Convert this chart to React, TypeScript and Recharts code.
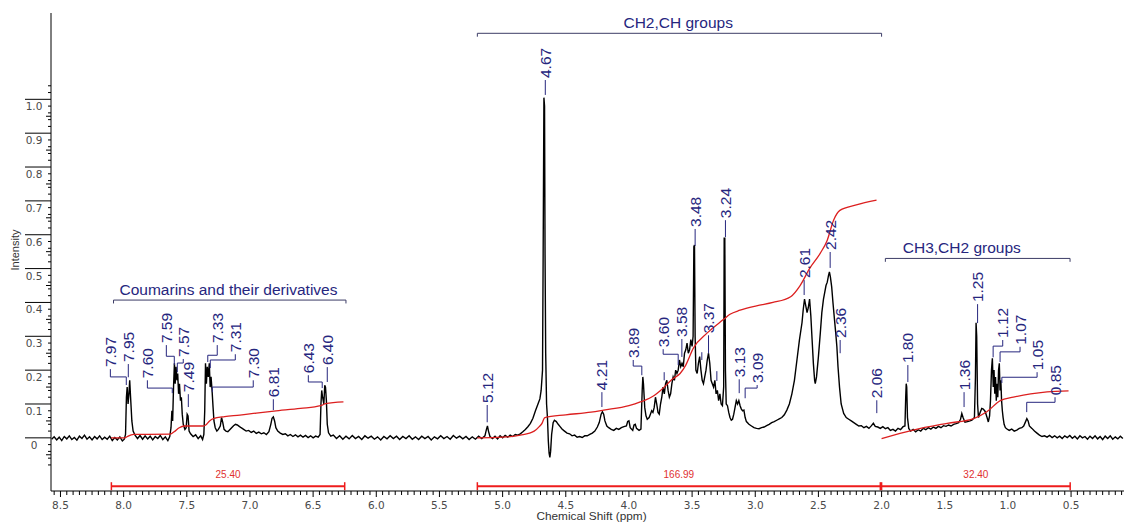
import { ComposedChart, Line, XAxis, YAxis, ReferenceLine, ReferenceDot, Label } from 'recharts';

// ---- data (ppm, intensity) ----
const spectrum: [number, number][] = [
  [8.57, -0.004], [8.55, 0.003], [8.53, -0.006], [8.51, 0.002], [8.49, -0.008], [8.47, 0.004], [8.45, -0.003],
  [8.43, 0.006], [8.41, -0.005], [8.39, 0.001], [8.37, -0.007], [8.35, 0.005], [8.33, -0.002], [8.31, 0.008],
  [8.29, -0.004], [8.27, 0.003], [8.25, -0.006], [8.23, 0.004], [8.21, -0.003], [8.19, 0.006], [8.17, -0.005],
  [8.15, 0.002], [8.13, -0.004], [8.11, 0.005], [8.09, -0.008], [8.07, 0.001], [8.05, -0.006], [8.03, 0.003],
  [8.01, -0.009], [7.995, -0.004],
  [7.985, 0.01], [7.978, 0.12], [7.972, 0.15], [7.965, 0.1], [7.958, 0.13], [7.952, 0.17], [7.945, 0.12],
  [7.935, 0.05], [7.925, 0.02], [7.91, 0.008],
  [7.89, -0.002], [7.87, 0.007], [7.85, -0.004], [7.83, 0.006], [7.81, -0.003], [7.79, 0.005], [7.77, -0.006],
  [7.75, 0.004], [7.73, -0.002], [7.71, 0.007], [7.69, -0.005], [7.67, 0.003], [7.65, -0.008], [7.635, 0.004],
  [7.625, 0.03], [7.618, 0.08], [7.612, 0.05], [7.605, 0.15], [7.598, 0.22], [7.592, 0.16], [7.585, 0.21],
  [7.578, 0.17], [7.572, 0.19], [7.565, 0.13], [7.558, 0.16], [7.55, 0.11], [7.543, 0.12], [7.536, 0.07],
  [7.528, 0.04], [7.515, 0.025], [7.505, 0.03], [7.497, 0.07], [7.49, 0.065], [7.482, 0.02],
  [7.47, 0.012], [7.45, 0.004], [7.43, 0.009], [7.41, -0.002], [7.39, 0.006], [7.375, -0.005],
  [7.365, 0.01], [7.358, 0.08], [7.352, 0.22], [7.345, 0.16], [7.338, 0.21], [7.33, 0.18], [7.322, 0.22],
  [7.315, 0.15], [7.308, 0.18], [7.3, 0.14], [7.292, 0.09], [7.285, 0.05], [7.275, 0.03], [7.262, 0.02],
  [7.25, 0.025], [7.235, 0.035], [7.225, 0.06], [7.215, 0.045], [7.205, 0.025], [7.19, 0.02], [7.175, 0.018],
  [7.16, 0.024], [7.145, 0.03], [7.13, 0.036], [7.115, 0.04], [7.1, 0.038], [7.085, 0.034], [7.07, 0.03],
  [7.05, 0.025], [7.03, 0.02], [7.01, 0.022], [6.99, 0.016], [6.97, 0.02], [6.95, 0.013], [6.93, 0.017],
  [6.91, 0.012], [6.89, 0.015], [6.87, 0.01], [6.85, 0.018], [6.835, 0.04], [6.825, 0.058], [6.815, 0.062],
  [6.805, 0.05], [6.795, 0.03], [6.78, 0.02], [6.76, 0.014], [6.74, 0.01], [6.72, 0.012], [6.7, 0.006],
  [6.68, 0.01], [6.66, 0.004], [6.64, 0.009], [6.62, 0.003], [6.6, 0.008], [6.58, 0.002], [6.56, 0.007],
  [6.54, 0.001], [6.52, 0.006], [6.5, 0.0], [6.48, 0.005], [6.46, 0.002], [6.445, 0.01], [6.438, 0.1],
  [6.432, 0.14], [6.425, 0.12], [6.415, 0.1], [6.408, 0.155], [6.402, 0.15], [6.395, 0.11], [6.388, 0.04],
  [6.378, 0.015], [6.36, 0.005],
  [6.34, 0.008], [6.315, -0.002], [6.29, 0.006], [6.265, -0.004], [6.24, 0.005], [6.215, -0.003], [6.19, 0.007],
  [6.165, -0.002], [6.14, 0.004], [6.115, -0.005], [6.09, 0.006], [6.065, -0.001], [6.04, 0.005], [6.015, -0.004],
  [5.99, 0.003], [5.965, -0.006], [5.94, 0.004], [5.915, -0.003], [5.89, 0.006], [5.865, -0.002], [5.84, 0.005],
  [5.815, -0.005], [5.79, 0.004], [5.765, -0.002], [5.74, 0.006], [5.715, -0.004], [5.69, 0.003], [5.665, -0.005],
  [5.64, 0.005], [5.615, -0.002], [5.59, 0.004], [5.565, -0.006], [5.54, 0.003], [5.515, -0.003], [5.49, 0.006],
  [5.465, -0.002], [5.44, 0.004], [5.415, -0.004], [5.39, 0.007], [5.365, -0.001], [5.34, 0.005], [5.315, -0.003],
  [5.29, 0.004], [5.265, -0.005], [5.24, 0.003], [5.215, -0.004], [5.19, 0.005], [5.165, -0.002], [5.14, 0.006],
  [5.128, 0.025], [5.12, 0.035], [5.112, 0.02], [5.1, 0.004], [5.08, -0.002], [5.06, 0.005], [5.04, -0.003],
  [5.02, 0.006], [5.0, 0.0], [4.98, 0.007], [4.96, 0.002], [4.94, 0.008], [4.92, 0.004], [4.9, 0.01],
  [4.88, 0.008], [4.86, 0.012], [4.84, 0.018], [4.82, 0.025], [4.8, 0.033], [4.78, 0.043], [4.76, 0.058],
  [4.74, 0.08], [4.72, 0.1], [4.705, 0.115], [4.695, 0.14], [4.684, 0.2], [4.679, 0.545], [4.673, 1.005],
  [4.668, 0.98], [4.664, 0.54], [4.659, 0.25], [4.652, 0.1], [4.645, 0.06], [4.638, -0.01], [4.632, -0.045],
  [4.626, -0.058], [4.62, -0.04], [4.612, 0.01], [4.6, 0.045], [4.59, 0.052], [4.575, 0.048], [4.56, 0.04],
  [4.545, 0.033], [4.53, 0.026], [4.51, 0.02], [4.49, 0.014], [4.47, 0.012], [4.45, 0.006], [4.43, 0.008],
  [4.41, 0.002], [4.39, 0.004], [4.37, 0.001], [4.35, 0.006], [4.33, 0.006], [4.31, 0.01], [4.29, 0.014],
  [4.27, 0.02], [4.25, 0.032], [4.235, 0.045], [4.22, 0.07], [4.21, 0.077], [4.2, 0.07], [4.19, 0.05],
  [4.175, 0.035], [4.16, 0.03], [4.14, 0.025], [4.12, 0.022], [4.1, 0.028], [4.08, 0.025], [4.06, 0.03],
  [4.04, 0.033], [4.02, 0.035], [4.01, 0.048], [4.0, 0.05], [3.99, 0.03], [3.97, 0.022], [3.96, 0.038],
  [3.95, 0.04], [3.94, 0.028], [3.92, 0.022], [3.905, 0.026], [3.895, 0.14], [3.89, 0.18], [3.885, 0.16],
  [3.875, 0.09], [3.865, 0.065], [3.855, 0.055], [3.84, 0.06], [3.83, 0.07], [3.82, 0.08], [3.81, 0.075],
  [3.8, 0.09], [3.79, 0.12], [3.78, 0.1], [3.77, 0.075], [3.76, 0.07], [3.75, 0.1], [3.74, 0.12], [3.73, 0.15],
  [3.72, 0.13], [3.71, 0.16], [3.7, 0.17], [3.69, 0.14], [3.68, 0.12], [3.67, 0.13], [3.66, 0.16], [3.65, 0.18],
  [3.64, 0.17], [3.63, 0.2], [3.62, 0.19], [3.61, 0.2], [3.6, 0.23], [3.59, 0.21], [3.58, 0.22], [3.57, 0.21],
  [3.56, 0.25], [3.55, 0.26], [3.54, 0.28], [3.53, 0.25], [3.52, 0.26], [3.51, 0.29], [3.5, 0.27], [3.492, 0.3],
  [3.486, 0.565], [3.481, 0.57], [3.476, 0.3], [3.47, 0.2], [3.46, 0.19], [3.45, 0.22], [3.44, 0.24], [3.43, 0.2],
  [3.42, 0.17], [3.41, 0.16], [3.4, 0.18], [3.39, 0.2], [3.38, 0.23], [3.37, 0.25], [3.36, 0.22], [3.35, 0.17],
  [3.34, 0.16], [3.33, 0.15], [3.32, 0.17], [3.31, 0.13], [3.3, 0.14], [3.29, 0.11], [3.28, 0.13], [3.27, 0.1],
  [3.26, 0.095], [3.25, 0.15], [3.246, 0.59], [3.241, 0.59], [3.236, 0.2], [3.23, 0.1], [3.22, 0.095],
  [3.21, 0.075], [3.2, 0.06], [3.19, 0.052], [3.18, 0.055], [3.17, 0.07], [3.16, 0.09], [3.15, 0.11],
  [3.14, 0.1], [3.13, 0.11], [3.12, 0.095], [3.11, 0.085], [3.1, 0.08], [3.09, 0.082], [3.08, 0.06],
  [3.07, 0.048], [3.05, 0.04], [3.03, 0.035], [3.01, 0.03], [2.99, 0.028], [2.97, 0.027], [2.95, 0.03],
  [2.93, 0.032], [2.91, 0.036], [2.89, 0.04], [2.87, 0.045], [2.85, 0.048], [2.83, 0.052], [2.81, 0.056],
  [2.79, 0.06], [2.77, 0.068], [2.75, 0.082], [2.73, 0.1], [2.71, 0.13], [2.69, 0.17], [2.67, 0.23],
  [2.65, 0.29], [2.63, 0.34], [2.62, 0.38], [2.61, 0.41], [2.6, 0.39], [2.59, 0.37], [2.58, 0.385],
  [2.57, 0.41], [2.56, 0.36], [2.55, 0.29], [2.54, 0.22], [2.53, 0.17], [2.525, 0.16], [2.515, 0.18],
  [2.5, 0.24], [2.485, 0.31], [2.473, 0.37], [2.46, 0.41], [2.45, 0.43], [2.44, 0.45], [2.43, 0.46],
  [2.42, 0.48], [2.413, 0.49], [2.405, 0.475], [2.395, 0.446], [2.385, 0.4], [2.373, 0.35], [2.363, 0.31],
  [2.354, 0.27], [2.345, 0.21], [2.333, 0.15], [2.32, 0.1], [2.3, 0.072], [2.28, 0.06], [2.26, 0.055],
  [2.24, 0.05], [2.22, 0.045], [2.2, 0.04], [2.18, 0.035], [2.16, 0.036], [2.14, 0.03], [2.12, 0.034],
  [2.1, 0.028], [2.08, 0.036], [2.065, 0.043], [2.05, 0.034], [2.03, 0.032], [2.01, 0.028], [1.99, 0.033],
  [1.97, 0.027], [1.95, 0.03], [1.93, 0.022], [1.91, 0.025], [1.89, 0.02], [1.87, 0.028], [1.85, 0.024],
  [1.83, 0.033], [1.815, 0.035], [1.809, 0.12], [1.805, 0.16], [1.801, 0.15], [1.795, 0.06], [1.785, 0.028],
  [1.77, 0.02], [1.75, 0.025], [1.73, 0.018], [1.71, 0.024], [1.69, 0.02], [1.67, 0.028], [1.65, 0.024],
  [1.63, 0.03], [1.61, 0.026], [1.59, 0.032], [1.57, 0.028], [1.55, 0.034], [1.53, 0.03], [1.51, 0.036],
  [1.49, 0.034], [1.47, 0.038], [1.45, 0.035], [1.43, 0.04], [1.41, 0.042], [1.39, 0.045], [1.375, 0.055],
  [1.365, 0.072], [1.355, 0.06], [1.34, 0.046], [1.32, 0.048], [1.3, 0.05], [1.285, 0.052], [1.265, 0.06],
  [1.257, 0.18], [1.252, 0.34], [1.247, 0.3], [1.24, 0.1], [1.233, 0.06], [1.22, 0.075], [1.207, 0.087],
  [1.195, 0.085], [1.18, 0.078], [1.165, 0.06], [1.155, 0.047], [1.145, 0.065], [1.138, 0.11], [1.13, 0.2],
  [1.123, 0.235], [1.116, 0.15], [1.11, 0.2], [1.104, 0.13], [1.098, 0.18], [1.092, 0.11], [1.086, 0.16],
  [1.08, 0.12], [1.074, 0.2], [1.068, 0.22], [1.062, 0.14], [1.056, 0.17], [1.05, 0.11], [1.044, 0.08],
  [1.038, 0.06], [1.03, 0.04], [1.02, 0.03], [1.01, 0.027], [0.99, 0.022], [0.97, 0.026], [0.95, 0.02],
  [0.93, 0.023], [0.91, 0.028], [0.89, 0.03], [0.875, 0.035], [0.86, 0.048], [0.85, 0.057], [0.84, 0.05],
  [0.83, 0.035], [0.81, 0.028], [0.79, 0.02], [0.77, 0.014], [0.75, 0.008], [0.73, 0.004], [0.71, 0.006],
  [0.69, 0.002], [0.67, 0.007], [0.65, 0.001], [0.63, 0.006], [0.61, 0.0], [0.59, 0.005], [0.57, -0.002],
  [0.55, 0.006], [0.53, 0.001], [0.51, 0.007], [0.49, -0.001], [0.47, 0.005], [0.45, -0.003], [0.43, 0.006],
  [0.41, 0.0], [0.39, 0.004], [0.37, -0.004], [0.35, 0.005], [0.33, -0.002], [0.31, 0.006], [0.29, -0.003],
  [0.27, 0.004], [0.25, -0.005], [0.23, 0.005], [0.21, -0.002], [0.19, 0.006], [0.17, -0.004], [0.15, 0.003],
  [0.13, -0.003], [0.11, 0.005], [0.09, -0.002],
];

// integral curves
const integralAromatic: [number, number][] = [
  [8.1, 0.0], [7.99, 0.0], [7.97, 0.004], [7.94, 0.009], [7.92, 0.01], [7.63, 0.011], [7.6, 0.018],
  [7.56, 0.03], [7.52, 0.035], [7.37, 0.035], [7.35, 0.038], [7.32, 0.05], [7.29, 0.057], [7.2, 0.063],
  [7.08, 0.067], [6.95, 0.073], [6.81, 0.079], [6.6, 0.087], [6.44, 0.095], [6.4, 0.101], [6.26, 0.106],
];
const integralMiddle: [number, number][] = [
  [5.2, 0.0], [5.0, 0.002], [4.86, 0.008], [4.75, 0.02], [4.71, 0.033], [4.685, 0.045], [4.675, 0.055],
  [4.665, 0.06], [4.5, 0.068], [4.3, 0.076], [4.2, 0.082], [4.0, 0.095], [3.91, 0.106], [3.8, 0.125],
  [3.75, 0.14], [3.65, 0.175], [3.595, 0.19], [3.55, 0.215], [3.49, 0.265], [3.38, 0.31], [3.25, 0.35],
  [3.2, 0.365], [3.12, 0.377], [2.99, 0.39], [2.86, 0.4], [2.72, 0.417], [2.645, 0.45], [2.57, 0.5],
  [2.486, 0.545], [2.43, 0.584], [2.38, 0.643], [2.33, 0.672], [2.2, 0.688], [2.04, 0.702],
];
const integralAliphatic: [number, number][] = [
  [2.0, -0.002], [1.75, 0.023], [1.48, 0.043], [1.27, 0.057], [1.167, 0.077], [1.06, 0.11], [0.957, 0.12],
  [0.82, 0.13], [0.69, 0.136], [0.52, 0.139],
];

// integral ranges: [value, from ppm, to ppm]
const integralRanges: [string, number, number][] = [
  ['25.40', 8.097, 6.25],
  ['166.99', 5.2, 2.01],
  ['32.40', 2.0, 0.507],
];

// group brackets: [text, from ppm, to ppm, bracket intensity, text ppm, text intensity]
const groups: [string, number, number, number, number, number][] = [
  ['CH2,CH groups', 5.2, 2.0, 1.195, 3.61, 1.226],
  ['Coumarins and their derivatives', 8.08, 6.24, 0.407, 7.17, 0.4385],
  ['CH3,CH2 groups', 1.97, 0.508, 0.53, 1.365, 0.5627],
];

// peak picks: [text, text ppm, text bottom, knee (null = straight), peak ppm, leader end]
const peakLabels: [string, number, number, number | null, number, number][] = [
  ['7.97', 8.105, 0.209, 0.18, 7.979, 0.156],
  ['7.95', 7.963, 0.224, null, 7.963, 0.179],
  ['7.60', 7.812, 0.176, 0.147, 7.615, 0.132],
  ['7.59', 7.662, 0.28, 0.241, 7.599, 0.215],
  ['7.57', 7.528, 0.239, 0.221, 7.575, 0.194],
  ['7.49', 7.488, 0.135, null, 7.488, 0.091],
  ['7.33', 7.259, 0.28, 0.244, 7.334, 0.224],
  ['7.31', 7.116, 0.253, 0.23, 7.314, 0.206],
  ['7.30', 6.974, 0.176, 0.15, 7.298, 0.135],
  ['6.81', 6.815, 0.12, null, 6.815, 0.082],
  ['6.43', 6.538, 0.191, 0.165, 6.428, 0.147],
  ['6.40', 6.388, 0.215, null, 6.388, 0.165],
  ['5.12', 5.122, 0.103, null, 5.122, 0.046],
  ['4.67', 4.662, 1.063, null, 4.662, 1.013],
  ['4.21', 4.214, 0.141, null, 4.214, 0.091],
  ['3.89', 3.966, 0.236, 0.212, 3.898, 0.185],
  ['3.60', 3.729, 0.268, 0.247, 3.61, 0.215],
  ['3.58', 3.581, 0.298, null, 3.581, 0.239],
  ['3.48', 3.476, 0.623, null, 3.476, 0.567],
  ['3.37', 3.37, 0.309, null, 3.37, 0.25],
  ['3.24', 3.236, 0.649, null, 3.236, 0.593],
  ['3.13', 3.127, 0.179, null, 3.127, 0.132],
  ['3.09', 2.985, 0.162, 0.147, 3.08, 0.117],
  ['2.61', 2.613, 0.472, null, 2.613, 0.422],
  ['2.42', 2.407, 0.555, null, 2.407, 0.502],
  ['2.36', 2.328, 0.295, null, 2.328, 0.25],
  ['2.06', 2.038, 0.117, null, 2.038, 0.073],
  ['1.80', 1.792, 0.221, null, 1.792, 0.165],
  ['1.36', 1.347, 0.141, null, 1.347, 0.091],
  ['1.25', 1.24, 0.401, null, 1.24, 0.339],
  ['1.12', 1.041, 0.295, 0.271, 1.117, 0.238],
  ['1.07', 0.904, 0.275, 0.254, 1.062, 0.224],
  ['1.05', 0.769, 0.2, 0.179, 1.048, 0.162],
  ['0.85', 0.627, 0.126, 0.105, 0.851, 0.076],
];
// picks without a printed value: [ppm, top, bottom]
const bareTicks: [number, number, number][] = [
  [3.721, 0.194, 0.17],
  [3.423, 0.253, 0.23],
  [3.304, 0.197, 0.168],
];

const xMajor = [8.5, 8.0, 7.5, 7.0, 6.5, 6.0, 5.5, 5.0, 4.5, 4.0, 3.5, 3.0, 2.5, 2.0, 1.5, 1.0, 0.5];
const yMajor = [0, 0.1, 0.2, 0.3, 0.4, 0.5, 0.6, 0.7, 0.8, 0.9, 1.0];

const NAVY = '#26267e';
const BRACKET = '#3c3c66';
const RED = '#dc1f1f';
const SANS = '"Liberation Sans", Arial, sans-serif';
const AXISFONT = '"DejaVu Sans", Verdana, sans-serif';

const toPts = (arr: [number, number][]) => arr.map(([ppm, i]) => ({ ppm, i }));

// minor ticks every 0.05 ppm, 0.02 / 0.05 in intensity
const xTicks: number[] = [];
for (let k = 2; k <= 171; k++) xTicks.push(k / 20);
const yTicks: number[] = [];
for (let k = -4; k <= 52; k++) yTicks.push(k / 50);
for (let k = -1; k <= 20; k += 2) yTicks.push(k / 20);

const XTick = (props: any) => {
  const { x, y, payload } = props;
  const v = payload.value as number;
  const major = xMajor.some((m) => Math.abs(m - v) < 1e-6);
  return (
    <g>
      <line x1={x} x2={x} y1={y} y2={y + (major ? 6 : 4)} stroke="#000" strokeWidth={1} />
      {major && (
        <text x={x} y={y + 18} textAnchor="middle" fontSize={10.5} fill="#4a4a4a" fontFamily={AXISFONT}>
          {v.toFixed(1)}
        </text>
      )}
    </g>
  );
};

const YTick = (props: any) => {
  const { x, y, payload } = props;
  const v = payload.value as number;
  const major = yMajor.some((m) => Math.abs(m - v) < 1e-6);
  const mid = !major && Math.abs(v * 20 - Math.round(v * 20)) < 1e-6;
  if (v > 1.041 || v < -0.081) return <g />;
  return (
    <g>
      <line x1={x - (major ? 26 : mid ? 5 : 3)} x2={x} y1={y} y2={y} stroke="#000" strokeWidth={1} />
      {major && (
        <text x={x - 17} y={y + 11} textAnchor="middle" fontSize={10.5} fill="#4a4a4a" fontFamily={AXISFONT}>
          {v === 0 ? '0' : v.toFixed(1)}
        </text>
      )}
    </g>
  );
};

const peakText = (text: string) => (p: any) => (
  <text
    x={p.cx}
    y={p.cy}
    transform={`rotate(-90 ${p.cx} ${p.cy})`}
    textAnchor="start"
    dominantBaseline="central"
    fontSize={15.5}
    fill={NAVY}
    fontFamily={SANS}
  >
    {text}
  </text>
);

const plainText = (text: string, size: number, color: string) => (p: any) => (
  <text x={p.cx} y={p.cy} textAnchor="middle" dominantBaseline="central" fontSize={size} fill={color} fontFamily={SANS}>
    {text}
  </text>
);

const seg = (key: string, x1: number, y1: number, x2: number, y2: number, stroke: string, w = 1) => (
  <ReferenceLine
    key={key}
    segment={[{ x: x1, y: y1 }, { x: x2, y: y2 }]}
    stroke={stroke}
    strokeWidth={w}
    ifOverflow="visible"
  />
);

export default function App() {
  const barY = -0.143;
  const cap = 0.012;
  const gap = 0.006;

  const leaders: any[] = [];
  peakLabels.forEach(([t, tx, tb, knee, px, end], idx) => {
    if (knee === null) {
      leaders.push(seg(`l${idx}`, tx, tb - gap, tx, end, NAVY));
    } else {
      leaders.push(seg(`la${idx}`, tx, tb - gap, tx, knee, NAVY));
      leaders.push(seg(`lb${idx}`, tx, knee, px, knee, NAVY));
      leaders.push(seg(`lc${idx}`, px, knee, px, end, NAVY));
    }
  });
  bareTicks.forEach(([p, a, b], idx) => leaders.push(seg(`bt${idx}`, p, a, p, b, NAVY)));

  return (
    <div style={{ position: 'absolute', left: 0, top: 0, background: '#fff' }}>
      <ComposedChart width={1124} height={525} margin={{ top: 13, right: 0, bottom: 0, left: 0 }}>
        <XAxis
          type="number"
          dataKey="ppm"
          domain={[0.081, 8.575]}
          reversed
          allowDataOverflow
          ticks={xTicks}
          interval={0}
          tick={<XTick />}
          tickLine={false}
          tickSize={0}
          tickMargin={0}
          height={34}
          axisLine={{ stroke: '#000', strokeWidth: 1 }}
        >
          <Label
            content={(p: any) => {
              const vb = p.viewBox;
              return (
                <text
                  x={vb.x + vb.width / 2 + 4}
                  y={vb.y + 29}
                  textAnchor="middle"
                  fontSize={11.8}
                  fill="#333"
                  fontFamily={SANS}
                >
                  Chemical Shift (ppm)
                </text>
              );
            }}
          />
        </XAxis>
        <YAxis
          type="number"
          dataKey="i"
          domain={[-0.157, 1.255]}
          allowDataOverflow
          ticks={yTicks}
          interval={0}
          tick={<YTick />}
          tickLine={false}
          tickSize={0}
          tickMargin={0}
          width={51}
          axisLine={{ stroke: '#000', strokeWidth: 1 }}
        >
          <Label
            content={(p: any) => {
              const vb = p.viewBox;
              const cy = vb.y + vb.height / 2 - 2;
              return (
                <text
                  x={15}
                  y={cy}
                  transform={`rotate(-90 15 ${cy})`}
                  textAnchor="middle"
                  dominantBaseline="central"
                  fontSize={11}
                  fill="#333"
                  fontFamily={SANS}
                >
                  Intensity
                </text>
              );
            }}
          />
        </YAxis>

        <Line
          data={toPts(spectrum)}
          dataKey="i"
          type="linear"
          stroke="#000"
          strokeWidth={1.4}
          dot={false}
          activeDot={false}
          isAnimationActive={false}
        />
        {[integralAromatic, integralMiddle, integralAliphatic].map((arr, idx) => (
          <Line
            key={`int${idx}`}
            data={toPts(arr)}
            dataKey="i"
            type="monotone"
            stroke={RED}
            strokeWidth={1.3}
            dot={false}
            activeDot={false}
            isAnimationActive={false}
          />
        ))}

        {integralRanges.map(([v, a, b], idx) => [
          seg(`ib${idx}`, a, barY, b, barY, '#ee1c1c', 2),
          seg(`ica${idx}`, a, barY - cap, a, barY + cap, '#ee1c1c', 1.5),
          seg(`icb${idx}`, b, barY - cap, b, barY + cap, '#ee1c1c', 1.5),
          <ReferenceDot
            key={`it${idx}`}
            x={(a + b) / 2}
            y={barY + 0.035}
            r={0}
            ifOverflow="visible"
            shape={plainText(v, 10, '#e03030')}
          />,
        ])}

        {groups.map(([t, a, b, y, tx, ty], idx) => [
          seg(`g${idx}`, a, y, b, y, BRACKET),
          seg(`ga${idx}`, a, y, a, y - 0.01, BRACKET),
          seg(`gb${idx}`, b, y, b, y - 0.01, BRACKET),
          <ReferenceDot
            key={`gt${idx}`}
            x={tx}
            y={ty}
            r={0}
            ifOverflow="visible"
            shape={plainText(t, 15.5, NAVY)}
          />,
        ])}

        {leaders}
        {peakLabels.map(([t, tx, tb], idx) => (
          <ReferenceDot key={`pt${idx}`} x={tx} y={tb} r={0} ifOverflow="visible" shape={peakText(t)} />
        ))}
      </ComposedChart>
    </div>
  );
}
